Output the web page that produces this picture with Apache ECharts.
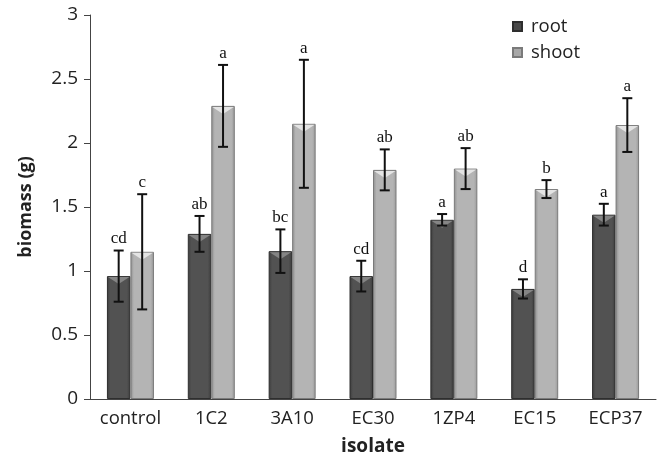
<!DOCTYPE html>
<html><head><meta charset="utf-8">
<script src="https://cdn.jsdelivr.net/npm/echarts@6/dist/echarts.min.js"></script>
<style>html,body{margin:0;padding:0;background:#fff}#c{width:667px;height:464px}</style>
</head><body><div id="c"></div>
<script>
const categories = ['control','1C2','3A10','EC30','1ZP4','EC15','ECP37'];
const rootValues = [0.96,1.29,1.155,0.96,1.40,0.86,1.44];
const rootErr = [0.20,0.14,0.17,0.12,0.045,0.075,0.085];
const rootLetters = ['cd','ab','bc','cd','a','d','a'];
const shootValues = [1.15,2.29,2.15,1.79,1.80,1.64,2.14];
const shootErr = [0.45,0.32,0.50,0.16,0.16,0.07,0.21];
const shootLetters = ['c','a','a','ab','ab','b','a'];
const yTicks = [0,0.5,1,1.5,2,2.5,3];

const BW = 23.5;
const font = '"Open Sans", sans-serif';

function errSeries(name, vals, errs, letters, side, notchFill){
  return {
    type:'custom', name:name+'_err', z:5, silent:true,
    data: vals.map((v,i)=>[i,v,errs[i]]),
    renderItem:function(params, api){
      const i = api.value(0), v = api.value(1), e = api.value(2);
      const c = api.coord([i, v]);
      const x = c[0] + side*BW/2;
      const yTop = api.coord([i, v+e])[1];
      const yBot = api.coord([i, v-e])[1];
      const cap = 5;
      const st = {stroke:'#111', lineWidth:2};
      const l = x - BW/2 + 1, r = x + BW/2 - 1;
      return {type:'group', children:[
        {type:'polygon', z2:1, shape:{points:[[l,c[1]+1],[r,c[1]+1],[x,c[1]+8]]}, style:{fill:notchFill}},
        {type:'line', z2:2, shape:{x1:x,y1:yTop,x2:x,y2:yBot}, style:st},
        {type:'line', z2:2, shape:{x1:x-cap,y1:yTop,x2:x+cap,y2:yTop}, style:st},
        {type:'line', z2:2, shape:{x1:x-cap,y1:yBot,x2:x+cap,y2:yBot}, style:st},
        {type:'text', z2:2, x:x, y:yTop-3, style:{text:letters[i], fill:'#111', font:'17px "Liberation Serif", serif', textAlign:'center', textVerticalAlign:'bottom'}}
      ]};
    }
  };
}

const chart = echarts.init(document.getElementById('c'), null, {renderer:'canvas'});
chart.setOption({
  animation:false,
  grid:{left:90,right:11,top:15,bottom:65},
  legend:{
    orient:'vertical', left:507, top:12, itemWidth:9, itemHeight:9, itemGap:7,
    icon:'rect',
    textStyle:{fontFamily:font, fontSize:18.5, color:'#222', lineHeight:18, padding:[0,0,0,4]},
    data:[
      {name:'root', itemStyle:{color:'#4a4a4a'}},
      {name:'shoot', itemStyle:{color:'#a8a8a8'}}
    ]
  },
  xAxis:{
    type:'category', data:categories,
    axisLine:{lineStyle:{color:'#444', width:1}},
    axisTick:{length:6, lineStyle:{color:'#444'}},
    axisLabel:{fontFamily:font, fontSize:18.5, color:'#222', margin:10},
    name:'isolate', nameLocation:'middle', nameGap:38,
    nameTextStyle:{fontFamily:font, fontSize:19, fontWeight:'bold', color:'#222'}
  },
  yAxis:{
    type:'value', min:0, max:3, interval:0.5,
    axisLine:{show:true, lineStyle:{color:'#444'}},
    axisTick:{show:true, length:6, lineStyle:{color:'#444'}},
    splitLine:{show:false},
    axisLabel:{fontFamily:font, fontSize:19, color:'#222', margin:12,
      formatter:function(v){return yTicks.indexOf(v)>=0 ? String(v) : '';}},
    name:'biomass (g)', nameLocation:'middle', nameGap:55,
    nameTextStyle:{fontFamily:font, fontSize:18, fontWeight:'bold', color:'#222'}
  },
  series:[
    {type:'bar', name:'root', data:rootValues, barWidth:BW, barGap:'0%',
      itemStyle:{color:new echarts.graphic.LinearGradient(0,0,1,0,[
        {offset:0,color:'#3c3c3c'},{offset:0.15,color:'#525252'},{offset:0.85,color:'#525252'},{offset:1,color:'#3c3c3c'}]),
        borderColor:'#2e2e2e', borderWidth:1}},
    {type:'bar', name:'shoot', data:shootValues, barWidth:BW,
      itemStyle:{color:new echarts.graphic.LinearGradient(0,0,1,0,[
        {offset:0,color:'#8e8e8e'},{offset:0.15,color:'#b4b4b4'},{offset:0.85,color:'#b4b4b4'},{offset:1,color:'#999999'}]),
        borderColor:'#7a7a7a', borderWidth:1}},
    errSeries('root', rootValues, rootErr, rootLetters, -1, '#858585'),
    errSeries('shoot', shootValues, shootErr, shootLetters, 1, '#e4e4e4')
  ]
});
</script></body></html>
